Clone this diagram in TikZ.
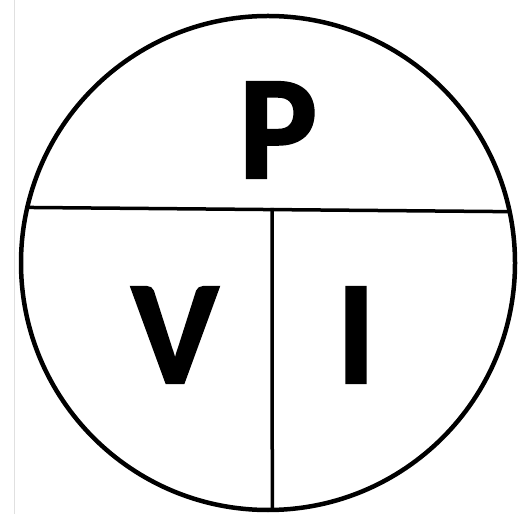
\documentclass[tikz,border=0pt]{standalone}
\usepackage{fontspec}
\setmainfont{Carlito}[BoldFeatures={FakeBold=1.5}]
\usetikzlibrary{positioning}

\begin{document}
\begin{tikzpicture}[
    x=1pt, y=1pt,
    ring/.style={draw, circle, line width=4.5pt, minimum size=494pt, inner sep=0pt, outer sep=0pt},
    divider/.style={line width=3.5pt},
    letter/.style={inner sep=0pt, font=\fontsize{148}{148}\selectfont\bfseries}
]
\useasboundingbox (0,0) rectangle (519,514);

% faint edge on the left
\draw[black!12, line width=1pt] (14,0) -- (14,514);

% the wheel
\node[ring] (wheel) at (268,251) {};

% dividing lines
\coordinate (split) at (272,306);
\draw[divider] (wheel.167.2) -- (wheel.12.8);
\draw[divider] (split) -- (wheel.-89.1);

% letters
\node[letter] (power) at (278,384) {P};
\node[letter] (volt) at (175,179) {V};
\node[letter] (amp) at (356,179) {I};
\end{tikzpicture}
\end{document}
